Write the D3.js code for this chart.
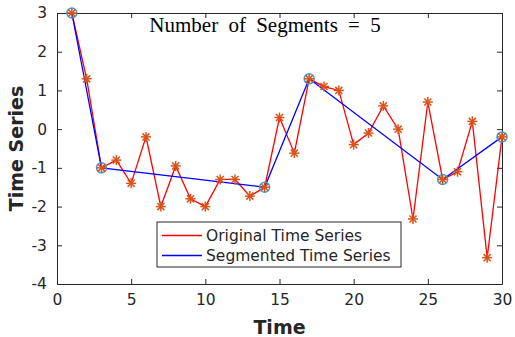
<!DOCTYPE html>
<html>
<head>
<meta charset="utf-8">
<script src="https://cdn.jsdelivr.net/npm/d3@7"></script>
<style>
body { margin: 0; background: #fff; }
.tick text { font-family: "DejaVu Sans", sans-serif; font-size: 15.5px; fill: #262626; }
</style>
</head>
<body>
<script>
var width = 515;
var height = 337;

// original series, one value per time step
var timeSteps = d3.range(1, 31);
var seriesValues = [3, 1.3, -1, -0.8, -1.4, -0.2, -2, -0.95, -1.8, -2,
    -1.3, -1.3, -1.73, -1.5, 0.3, -0.62, 1.3, 1.1, 1.0, -0.4,
    -0.1, 0.6, 0, -2.32, 0.7, -1.3, -1.1, 0.2, -3.32, -0.2];
// break points of the segmentation
var segmentTimes = [1, 3, 14, 17, 26, 30];
var xTicks = [0, 5, 10, 15, 20, 25, 30];
var yTicks = [-4, -3, -2, -1, 0, 1, 2, 3];
var legendLabels = ["Original Time Series", "Segmented Time Series"];

var margin = {top: 13, right: 13, bottom: 53, left: 57};

var svg = d3.select("body").append("svg")
    .attr("width", width)
    .attr("height", height);

var x = d3.scaleLinear().domain([0, 30]).range([margin.left, width - margin.right]);
var y = d3.scaleLinear().domain([-4, 3]).range([height - margin.bottom, margin.top]);

var orig = timeSteps.map(function (t, i) { return {t: t, v: seriesValues[i]}; });
var seg = segmentTimes.map(function (t) { return {t: t, v: seriesValues[t - 1]}; });

var axisColor = "#262626";

// axes, ticks pointing inward like matlab
var gx = svg.append("g")
    .attr("transform", "translate(0," + y(-4) + ")")
    .call(d3.axisBottom(x).tickValues(xTicks).tickSizeInner(-5).tickSizeOuter(0).tickPadding(10));
var gxTop = svg.append("g")
    .attr("transform", "translate(0," + y(3) + ")")
    .call(d3.axisTop(x).tickValues(xTicks).tickSizeInner(-5).tickSizeOuter(0).tickFormat(""));
var gy = svg.append("g")
    .attr("transform", "translate(" + x(0) + ",0)")
    .call(d3.axisLeft(y).tickValues(yTicks).tickSizeInner(-5).tickSizeOuter(0).tickPadding(10));
var gyRight = svg.append("g")
    .attr("transform", "translate(" + x(30) + ",0)")
    .call(d3.axisRight(y).tickValues(yTicks).tickSizeInner(-5).tickSizeOuter(0).tickFormat(""));

[gx, gxTop, gy, gyRight].forEach(function (g) {
    g.selectAll("path, line").attr("stroke", axisColor).attr("stroke-width", 1);
});
gy.selectAll(".tick text").text(function (d) { return d < 0 ? "-" + Math.abs(d) : d; });

var line = d3.line()
    .x(function (d) { return x(d.t); })
    .y(function (d) { return y(d.v); });

svg.append("path")
    .datum(orig)
    .attr("d", line)
    .attr("fill", "none")
    .attr("stroke", "#ff0000")
    .attr("stroke-width", 1.3);

svg.append("path")
    .datum(seg)
    .attr("d", line)
    .attr("fill", "none")
    .attr("stroke", "#0000ff")
    .attr("stroke-width", 1.3);

svg.selectAll(".segpt")
    .data(seg)
    .enter().append("circle")
    .attr("class", "segpt")
    .attr("cx", function (d) { return x(d.t); })
    .attr("cy", function (d) { return y(d.v); })
    .attr("r", 5)
    .attr("fill", "none")
    .attr("stroke", "#3d9fd6")
    .attr("stroke-width", 1.5);

// asterisk markers
var star = svg.selectAll(".star")
    .data(orig)
    .enter().append("g")
    .attr("class", "star")
    .attr("transform", function (d) { return "translate(" + x(d.t) + "," + y(d.v) + ")"; });
[0, 45, 90, 135].forEach(function (a) {
    star.append("line")
        .attr("x1", -5).attr("x2", 5)
        .attr("transform", "rotate(" + a + ")")
        .attr("stroke", "#d95319")
        .attr("stroke-width", 1.5);
});

// title inside the axes
svg.append("text")
    .attr("x", 265)
    .attr("y", 32)
    .attr("text-anchor", "middle")
    .style("font-family", "'Liberation Serif', serif")
    .style("font-size", "21px")
    .style("word-spacing", "5px")
    .attr("fill", "#000")
    .text("Number of Segments = 5");

svg.append("text")
    .attr("x", x(15))
    .attr("y", 334)
    .attr("text-anchor", "middle")
    .style("font-family", "'DejaVu Sans', sans-serif")
    .style("font-size", "19px")
    .style("font-weight", "bold")
    .attr("fill", axisColor)
    .text("Time");

svg.append("text")
    .attr("transform", "translate(23," + y(-0.5) + ") rotate(-90)")
    .attr("text-anchor", "middle")
    .style("font-family", "'DejaVu Sans', sans-serif")
    .style("font-size", "19px")
    .style("font-weight", "bold")
    .attr("fill", axisColor)
    .text("Time Series");

// legend
var legend = svg.append("g").attr("transform", "translate(157,222)");
legend.append("rect")
    .attr("width", 244)
    .attr("height", 45)
    .attr("fill", "#fff")
    .attr("stroke", axisColor)
    .attr("stroke-width", 1);
var legendColors = ["#ff0000", "#0000ff"];
var item = legend.selectAll(".item")
    .data(legendLabels)
    .enter().append("g")
    .attr("transform", function (d, i) { return "translate(0," + (13.5 + i * 20) + ")"; });
item.append("line")
    .attr("x1", 5).attr("x2", 45)
    .attr("stroke", function (d, i) { return legendColors[i]; })
    .attr("stroke-width", 1.3);
item.append("text")
    .attr("x", 49)
    .attr("dy", "0.35em")
    .style("font-family", "'DejaVu Sans', sans-serif")
    .style("font-size", "15.5px")
    .attr("fill", axisColor)
    .text(function (d) { return d; });
</script>
</body>
</html>
